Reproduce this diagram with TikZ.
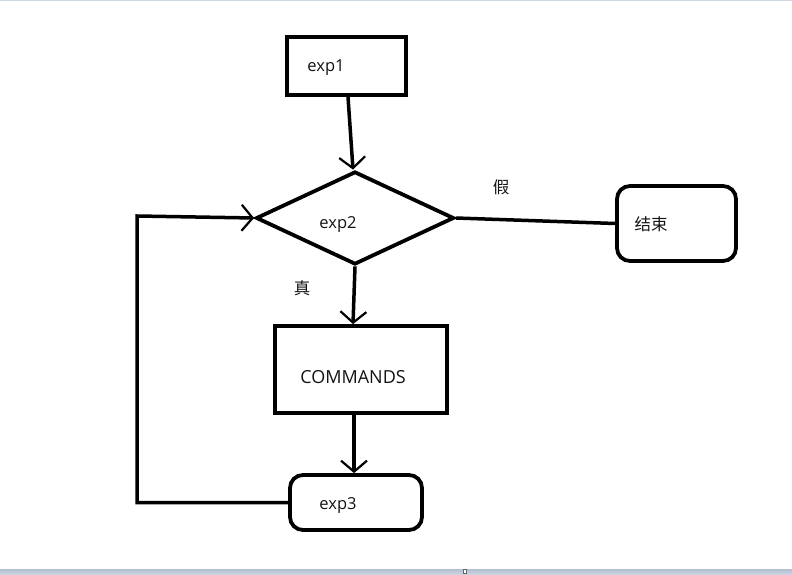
\documentclass[tikz,border=0pt]{standalone}
\usepackage{fontspec}
\setmainfont{Open Sans}
\newfontfamily\cjk{Noto Sans CJK SC}
\usetikzlibrary{shapes.geometric,arrows.meta}
\definecolor{ink}{HTML}{141414}
\definecolor{barA}{HTML}{B4BECF}
\definecolor{barB}{HTML}{CDD7E6}
\begin{document}
\begin{tikzpicture}[x=1pt,y=-1pt,
  shapebox/.style={draw=black,line width=3.8pt,inner sep=0pt},
  roundbox/.style={shapebox,rounded corners=13pt},
  txt/.style={text=ink,inner sep=0pt,font=\fontsize{16.5}{18}\selectfont},
  bigtxt/.style={text=ink,inner sep=0pt,font=\fontsize{18}{20}\selectfont},
  cjktxt/.style={text=ink,inner sep=0pt,font=\cjk\fontsize{16.5}{18}\selectfont},
  conn/.style={draw=black,line width=3.5pt},
  barb/.style={-{Straight Barb[length=11pt,width=26pt,line width=2.2pt]}}]
\useasboundingbox (0,0) rectangle (792,575);
\fill[white] (0,0) rectangle (792,575);
% window chrome
\fill[barB] (0,0) rectangle (792,1.5);
\fill[top color=barA,bottom color=barB] (0,569) rectangle (792,575);
\node[draw=gray!80!black,fill=white,line width=0.6pt,minimum width=3pt,minimum height=4pt,inner sep=0pt] (grip) at (465,571.5) {};

% shapes
\node[shapebox,minimum width=119pt,minimum height=58pt] (e1) at (346.5,66) {};
\node[shapebox,diamond,minimum width=198pt,minimum height=93pt] (d) at (355,218) {};
\node[roundbox,minimum width=119pt,minimum height=75pt] (end) at (676.5,223.5) {};
\node[shapebox,minimum width=172pt,minimum height=87pt] (cmd) at (361,369.5) {};
\node[roundbox,minimum width=132pt,minimum height=55pt] (e3) at (356,502.5) {};

% texts
\node[txt] (t1) at (326,68) {exp1};
\node[txt] (t2) at (338,225) {exp2};
\node[cjktxt] (tend) at (651,224) {结束};
\node[bigtxt] (tcmd) at (353,377) {COMMANDS};
\node[txt] (t3) at (338,506) {exp3};
\node[cjktxt] (tf) at (501,187) {假};
\node[cjktxt] (tt) at (302,288) {真};

% connectors
\draw[conn,barb] ([xshift=1.5pt]e1.south) -- ([xshift=-2pt]d.north);
\draw[conn] (d.east) -- (end.west);
\draw[conn,barb] (d.south) -- ([xshift=-8pt]cmd.north);
\draw[conn,barb] ([xshift=-7pt]cmd.south) -- ([xshift=-2pt]e3.north);
\coordinate (lb) at (137,502.5);
\coordinate (lt) at (137,216);
\draw[conn,barb,line join=miter] (e3.west) -- (lb) -- (lt) -- (d.west);
\end{tikzpicture}
\end{document}
